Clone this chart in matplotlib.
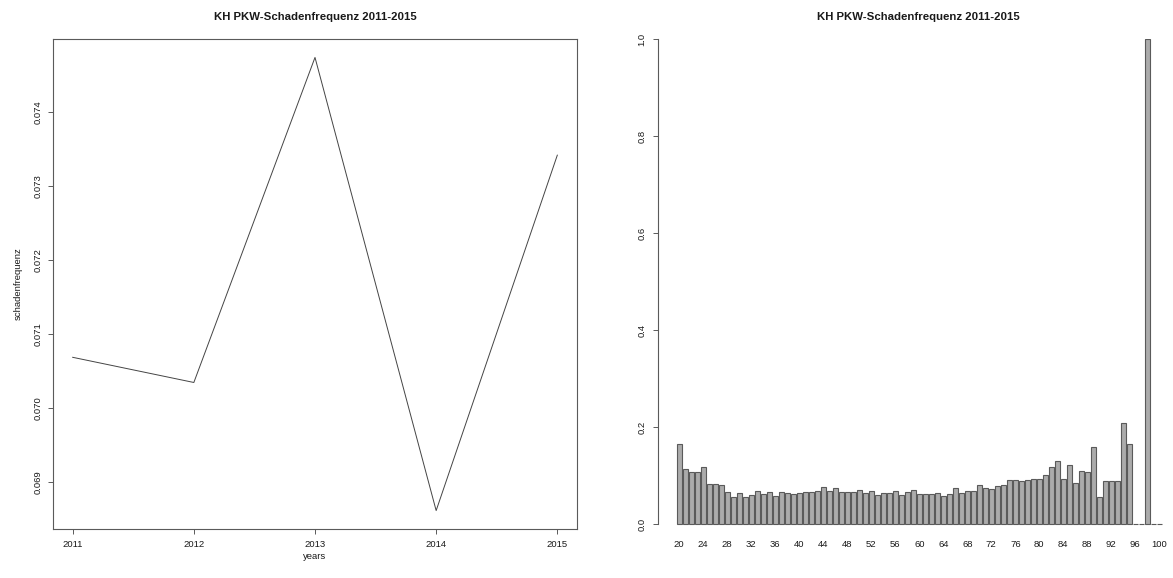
import numpy as np
import matplotlib
matplotlib.use("Agg")
import matplotlib.pyplot as plt

plt.rcParams['font.family'] = ['Liberation Sans', 'DejaVu Sans']

# claim frequency by year
years = [2011, 2012, 2013, 2014, 2015]
freq_year = [0.07069, 0.07035, 0.07474, 0.06862, 0.07342]

# claim frequency by driver age (20..100)
ages = list(range(20, 101))
freq_age = [
    0.165, 0.113, 0.108, 0.107, 0.118, 0.082, 0.083, 0.081, 0.065, 0.055,  # 20-29
    0.063, 0.056, 0.060, 0.069, 0.061, 0.066, 0.058, 0.066, 0.063, 0.061,  # 30-39
    0.064, 0.067, 0.067, 0.068, 0.077, 0.069, 0.074, 0.065, 0.065, 0.066,  # 40-49
    0.071, 0.064, 0.068, 0.059, 0.064, 0.064, 0.068, 0.060, 0.066, 0.070,  # 50-59
    0.061, 0.061, 0.061, 0.063, 0.058, 0.061, 0.074, 0.063, 0.069, 0.068,  # 60-69
    0.081, 0.074, 0.072, 0.078, 0.080, 0.090, 0.091, 0.088, 0.090, 0.092,  # 70-79
    0.092, 0.102, 0.118, 0.129, 0.093, 0.122, 0.084, 0.109, 0.107, 0.158,  # 80-89
    0.055, 0.088, 0.089, 0.088, 0.208, 0.165, 0.0, 0.0, 1.0, 0.0,          # 90-99
    0.0,                                                                   # 100
]
age_labels = list(range(20, 101, 4))
title = "KH PKW-Schadenfrequenz 2011-2015"

W, H = 1173, 578
fig = plt.figure(figsize=(W / 100, H / 100), dpi=100)

def box(l, t, r, b):
    return [l / W, 1 - b / H, (r - l) / W, (b - t) / H]

txt_col = '#1a1a1a'
fs = 6.8

# --- left: frequency per year ---
ax1 = fig.add_axes(box(53.3, 39.3, 576.7, 528.7))
ax1.plot(years, freq_year, color='#444444', lw=0.7)
ax1.set_xlim(2010.84, 2015.16)
lo, hi = min(freq_year), max(freq_year)
d = (hi - lo) * 0.04
ax1.set_ylim(lo - d, hi + d)
ax1.set_xticks(years)
ax1.set_yticks([0.069, 0.070, 0.071, 0.072, 0.073, 0.074])
ax1.set_yticklabels(['0.069', '0.070', '0.071', '0.072', '0.073', '0.074'],
                    rotation=90, va='center')
for s in ax1.spines.values():
    s.set_color('#5a5a5a')
    s.set_linewidth(0.8)
ax1.tick_params(axis='both', length=3.4, width=0.7, color='#5a5a5a',
                labelsize=fs, labelcolor=txt_col)
ax1.tick_params(axis='x', pad=5)
ax1.tick_params(axis='y', pad=4.6)
ax1.set_xlabel('years', fontsize=fs, color=txt_col, labelpad=2)
ax1.set_ylabel('schadenfrequenz', fontsize=fs, color=txt_col, labelpad=7.5)
ax1.set_title(title, fontsize=8.2, fontweight='bold', color=txt_col, pad=13.7)

# --- right: frequency per age ---
ax2 = fig.add_axes(box(657.5, 39.3, 1181.2, 528.7))
ax2.bar(ages, freq_age, width=5 / 6, color='#ababab', edgecolor='#5a5a5a',
        linewidth=0.8)
ax2.set_xlim(16.37, 103.65)
ax2.set_ylim(-0.0097, 1.0)
ax2.set_yticks([0.0, 0.2, 0.4, 0.6, 0.8, 1.0])
ax2.set_yticklabels(['0.0', '0.2', '0.4', '0.6', '0.8', '1.0'],
                    rotation=90, va='center')
ax2.set_xticks(age_labels)
ax2.set_xticklabels([str(a) for a in age_labels])
for k in ['top', 'right', 'bottom']:
    ax2.spines[k].set_visible(False)
ax2.spines['left'].set_bounds(0, 1)
ax2.spines['left'].set_color('#5a5a5a')
ax2.spines['left'].set_linewidth(0.8)
ax2.tick_params(axis='y', length=3.4, width=0.7, color='#5a5a5a',
                labelsize=fs, labelcolor=txt_col, pad=4.6)
ax2.tick_params(axis='x', length=0, labelsize=fs, labelcolor=txt_col, pad=8.4)
ax2.set_title(title, fontsize=8.2, fontweight='bold', color=txt_col, pad=13.7)
# title centred over the visible panel area
ax2.title.set_position(((918.6 - 657.5) / (1181.2 - 657.5), 1.0))

fig.savefig('out.png', dpi=100)
